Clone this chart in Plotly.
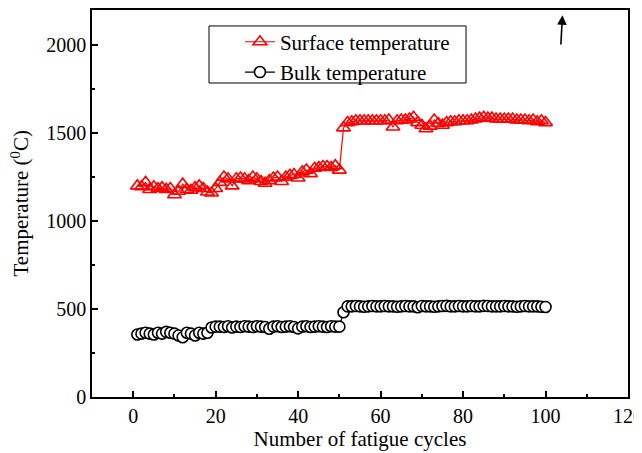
import plotly.graph_objects as go

cycles = list(range(1, 101))

surface_temp = [
    1200, 1195, 1220, 1180, 1195, 1185, 1190, 1180, 1185, 1150,
    1170, 1210, 1180, 1175, 1190, 1200, 1185, 1165, 1160, 1185,
    1220, 1250, 1240, 1200, 1240, 1245, 1240, 1230, 1250, 1240,
    1225, 1215, 1230, 1245, 1250, 1225, 1250, 1260, 1265, 1245,
    1280, 1290, 1270, 1300, 1305, 1310, 1310, 1305, 1315, 1290,
    1530, 1560, 1565, 1570, 1570, 1570, 1570, 1570, 1570, 1570,
    1570, 1575, 1535, 1570, 1575, 1575, 1580, 1590, 1560, 1545,
    1525, 1540, 1575, 1555, 1545, 1560, 1565, 1565, 1570, 1570,
    1570, 1575, 1580, 1585, 1590, 1585, 1585, 1580, 1580, 1580,
    1580, 1580, 1575, 1575, 1575, 1570, 1575, 1565, 1570, 1560,
]

bulk_temp = [
    355, 360, 365, 360, 355, 365, 360, 370, 365, 360,
    350, 340, 365, 360, 350, 365, 360, 365, 395, 400,
    400, 398, 402, 395, 400, 398, 402, 400, 398, 402,
    400, 398, 388, 400, 402, 398, 400, 402, 398, 390,
    400, 402, 398, 400, 402, 400, 398, 402, 400, 400,
    482, 515, 515, 517, 515, 513, 515, 517, 515, 515,
    517, 515, 515, 513, 515, 517, 515, 515, 510, 517,
    515, 515, 513, 515, 517, 518, 515, 515, 517, 515,
    515, 517, 515, 515, 518, 517, 515, 515, 515, 517,
    515, 515, 513, 515, 517, 515, 515, 515, 513, 512,
]

x_ticks = [0, 20, 40, 60, 80, 100, 120]
y_ticks = [0, 500, 1000, 1500, 2000]

FONT = "Liberation Serif, Times New Roman, serif"

fig = go.Figure()
fig.add_trace(go.Scatter(
    x=cycles, y=surface_temp, mode="lines+markers",
    name="Surface temperature",
    line=dict(color="#ff0000", width=1.2),
    marker=dict(symbol="triangle-up-open", size=12, color="#ff0000",
                line=dict(width=1.6, color="#ff0000")),
))
fig.add_trace(go.Scatter(
    x=cycles, y=bulk_temp, mode="lines+markers",
    name="Bulk temperature",
    line=dict(color="#000000", width=1.2),
    marker=dict(symbol="circle", size=11, color="#ffffff",
                line=dict(width=1.6, color="#000000")),
))

fig.add_annotation(
    x=104.1, y=2170, ax=103.7, ay=1995,
    xref="x", yref="y", axref="x", ayref="y",
    showarrow=True, arrowhead=2, arrowsize=1.2, arrowwidth=1.6,
    arrowcolor="#000000", text="",
)

# y-axis title
fig.add_annotation(
    x=0, y=0.5, xref="paper", yref="paper", xshift=-72,
    xanchor="center", yanchor="middle", textangle=-90, showarrow=False,
    text="Temperature (<sup>0</sup>C)",
    font=dict(family=FONT, size=21, color="#000000"),
)

# legend frame
fig.add_shape(
    type="rect", xref="paper", yref="paper",
    x0=0.2183, x1=0.6978, y0=0.8114, y1=0.9587,
    line=dict(color="#000000", width=1), fillcolor="rgba(0,0,0,0)",
    layer="above",
)

axis_common = dict(
    showline=True, linecolor="#000000", linewidth=1.5, mirror=True,
    ticks="inside", ticklen=6, tickwidth=1.5, tickcolor="#000000",
    showgrid=False, zeroline=False, automargin=False,
    ticklabeloverflow="allow",
    tickfont=dict(family=FONT, size=20, color="#000000"),
)

fig.update_xaxes(
    range=[-10, 120], tickvals=x_ticks,
    minor=dict(dtick=10, ticks="inside", ticklen=3, tickwidth=1.5, tickcolor="#000000"),
    title=dict(text="Number of fatigue cycles", font=dict(family=FONT, size=21, color="#000000"), standoff=6),
    **axis_common,
)
fig.update_yaxes(
    range=[0, 2200], tickvals=y_ticks,
    minor=dict(dtick=250, ticks="inside", ticklen=3, tickwidth=1.5, tickcolor="#000000"),
    **axis_common,
)

fig.update_layout(
    width=634, height=445,
    margin=dict(l=84, r=14, t=2, b=56, autoexpand=False),
    paper_bgcolor="#ffffff", plot_bgcolor="#ffffff",
    font=dict(family=FONT, size=20, color="#000000"),
    showlegend=True,
    legend=dict(
        x=0.276, y=0.97, xanchor="left", yanchor="top",
        borderwidth=0, bgcolor="rgba(0,0,0,0)",
        font=dict(family=FONT, size=21, color="#000000"),
        tracegroupgap=0,
    ),
)

fig.write_html("out.html")
